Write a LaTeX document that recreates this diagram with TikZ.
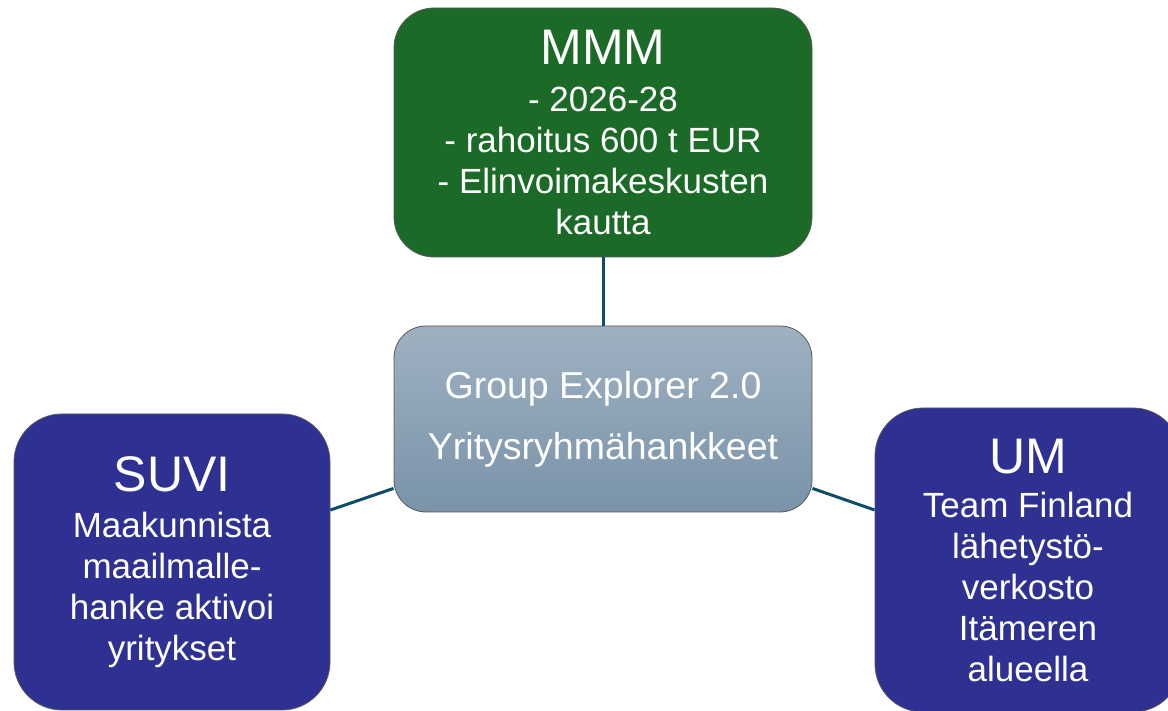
\documentclass[tikz,border=0pt]{standalone}
\usepackage{fontspec}
\setmainfont{Liberation Sans}
\usetikzlibrary{positioning}

\definecolor{mmmgreen}{RGB}{27,106,39}
\definecolor{boxblue}{RGB}{46,49,146}
\definecolor{geTop}{RGB}{158,177,193}
\definecolor{geBottom}{RGB}{122,147,169}
\definecolor{linkteal}{RGB}{15,76,102}

\begin{document}
\begin{tikzpicture}[x=1pt, y=1pt,
    box/.style={draw=black!65, line width=0.8pt, rounded corners=40pt, text=white,
        align=center, font=\fontsize{35}{41}\selectfont},
    link/.style={draw=linkteal, line width=3pt}]
    \useasboundingbox (0,0) rectangle (1168,711);
    \clip (0,0) rectangle (1168,711);
    \node[box, fill=mmmgreen, minimum width=418pt, minimum height=249pt] (mmm) at (603,578.5)
        {{\fontsize{50}{52}\selectfont MMM}\\[6pt]- 2026-28\\- rahoitus 600 t EUR\\- Elinvoimakeskusten\\kautta};
    \node[box, rounded corners=32pt, top color=geTop, bottom color=geBottom,
        minimum width=418pt, minimum height=186pt, font=\fontsize{37.5}{61}\selectfont] (ge) at (603,292)
        {Group Explorer 2.0\\Yritysryhmähankkeet};
    \node[box, rounded corners=48pt, fill=boxblue, minimum width=316pt, minimum height=296pt] (suvi) at (172,149)
        {{\fontsize{50}{52}\selectfont SUVI}\\[5pt]Maakunnista\\maailmalle-\\hanke aktivoi\\yritykset};
    \node[box, rounded corners=48pt, fill=boxblue, minimum width=306pt, minimum height=304pt] (um) at (1028,151)
        {{\fontsize{50}{52}\selectfont UM}\\[3pt]Team Finland\\lähetystö-\\verkosto\\Itämeren\\alueella};
    \draw[link] (mmm.south) -- (ge.north);
    \draw[link] ([yshift=24pt]ge.south west) -- ([yshift=52pt]suvi.east);
    \draw[link] ([yshift=24pt]ge.south east) -- ([yshift=50pt]um.west);
\end{tikzpicture}
\end{document}
